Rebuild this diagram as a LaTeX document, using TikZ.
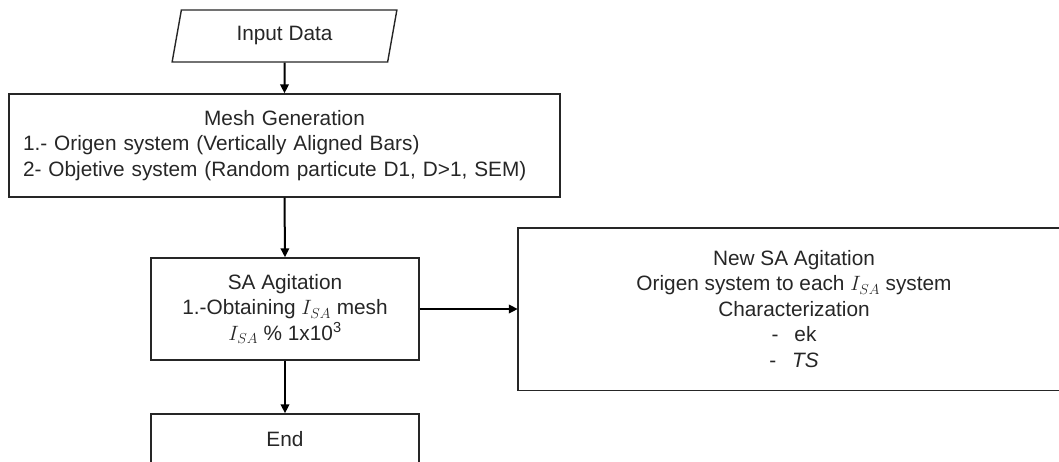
\documentclass[tikz,border=0pt]{standalone}
\usepackage{fontspec}
\setmainfont{Liberation Sans}
\usetikzlibrary{shapes.geometric,arrows.meta}
\begin{document}
\begin{tikzpicture}[x=1pt,y=-1pt,
  txt/.style={inner sep=0pt, font=\fontsize{20.8}{25.5}\selectfont, text=black!85},
  box/.style={txt, draw=black!85, line width=1.4pt},
  frame/.style={draw=black!85, line width=1.4pt},
  flow/.style={line width=2pt, -{Triangle[length=9pt,width=8.5pt]}}]
\useasboundingbox (0,0) rectangle (1059,461);
\clip (0,0) rectangle (1059,461);
\node[box, trapezium, trapezium left angle=77, trapezium right angle=103,
      trapezium stretches=true, minimum width=225pt, minimum height=52pt] (in) at (284.5,36) {Input Data};
\node[box, minimum width=551pt, minimum height=103pt, inner xsep=14pt, text width=523pt, align=left] (mesh) at (284.5,145.5)
  {\makebox[523pt][c]{Mesh Generation}\\
   1.- Origen system (Vertically Aligned Bars)\\
   2- Objetive system (Random particute D1, D>1, SEM)};
\node[box, minimum width=268pt, minimum height=102pt, align=center] (sa) at (285,309)
  {SA Agitation\\ 1.-Obtaining $I_{SA}$ mesh\\ $I_{SA}$ \% 1x10\textsuperscript{3}};
\node[box, minimum width=268pt, minimum height=50pt, align=center] (end) at (285,439) {End};
\node[txt, minimum width=552pt, minimum height=162pt, align=center] (new) at (794,309)
  {New SA Agitation\\ Origen system to each $I_{SA}$ system\\ Characterization\\
   -\hspace{16pt}ek\\ -\hspace{16pt}\textit{TS}};
\draw[frame] (new.north west) -- ([xshift=60pt]new.north east) |- (new.south west) -- cycle;
\draw[flow] (in.south) -- (mesh.north);
\draw[flow] (mesh.south) -- (sa.north);
\draw[flow] (sa.south) -- (end.north);
\draw[flow] (sa.east) -- (new.west);
\end{tikzpicture}
\end{document}
